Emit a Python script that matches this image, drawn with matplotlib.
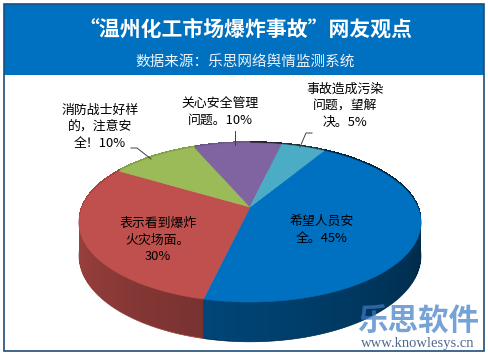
#!/usr/bin/env python3
"""“温州化工市场爆炸事故”网友观点 — 3D pie recreated with plain patches."""

import numpy as np
import matplotlib
matplotlib.use("Agg")
import matplotlib.pyplot as plt
from matplotlib.patches import Polygon, Rectangle

plt.rcParams["font.family"] = ["Noto Sans CJK SC", "DejaVu Sans"]

# data (data order, clockwise from the first-slice angle)
labels = ["希望人员安\n全。45%", "表示看到爆炸\n火灾场面。\n30%", "消防战士好样\n的，注意安\n全！10%",
          "关心安全管理\n问题。10%", "事故造成污染\n问题，望解\n决。5%"]
values = [45, 30, 10, 10, 5]
colors = ["#0070C0", "#C0504D", "#9BBB59", "#8064A2", "#4BACC6"]
title = "“温州化工市场爆炸事故”网友观点"
subtitle = "数据来源：乐思网络舆情监测系统"

# pie geometry in pixels (axes = whole figure, y downward)
CX, CY = 250, 207
A, B, Q = 167.7, 76.5, 0.195
DEPTH = 32
START = 31.0


def proj(theta_deg, h=0.0, r=1.0):
    t = np.radians(theta_deg)
    u, v = r * np.sin(t), -r * np.cos(t)
    den = 1 - Q * v
    return CX + A * u / den, CY + (B * v + h * DEPTH) / den


def shade(color, theta):
    rgb = np.array(matplotlib.colors.to_rgb(color))
    th = theta % 360
    f = 0.33 + 0.52 * np.clip((th - 90) / 180, 0, 1)
    return tuple(rgb * f)


fig = plt.figure(figsize=(4.88, 3.57), dpi=100)
ax = fig.add_axes([0, 0, 1, 1])
ax.set_xlim(0, 488)
ax.set_ylim(357, 0)
ax.axis("off")

# frame and header band
ax.add_patch(Rectangle((4, 4), 480, 71, facecolor="#0070C0", edgecolor="none", zorder=1))
ax.add_patch(Rectangle((4, 4), 480, 347, facecolor="none", edgecolor="#1F4E79", lw=1.2, zorder=10))
ax.text(245, 29, title, color="white", fontsize=15, fontweight="bold", ha="center", va="center", zorder=11)
ax.text(245, 63, subtitle, color="#EEF3FA", fontsize=10.5, ha="center", va="center", zorder=11)

# slice angle ranges
bounds = START + np.concatenate([[0], np.cumsum(values)]) * 360 / sum(values)

# side wall: smooth outline per slice, then gradient strips on top
for i, col in enumerate(colors):
    th = np.linspace(bounds[i], bounds[i + 1], 120)
    mid = (bounds[i] + bounds[i + 1]) / 2
    pts = [proj(t) for t in th] + [proj(t, 1) for t in th[::-1]]
    c = shade(col, mid)
    ax.add_patch(Polygon(pts, closed=True, facecolor=c, edgecolor=c, lw=0.5, zorder=2))

strips = []
for i, col in enumerate(colors):
    th = np.arange(bounds[i], bounds[i + 1], 0.5)
    th = np.append(th, bounds[i + 1])
    for a, b in zip(th[:-1], th[1:]):
        mid = (a + b) / 2
        pts = [proj(a, -0.05), proj(b, -0.05), proj(b, 0.97), proj(a, 0.97)]
        v = -np.cos(np.radians(mid))
        strips.append((v, pts, shade(col, mid)))
strips.sort(key=lambda s: s[0])
for _, pts, c in strips:
    ax.add_patch(Polygon(pts, closed=True, facecolor=c, edgecolor="none", antialiased=False, zorder=2.5))

# top faces
for i, col in enumerate(colors):
    th = np.linspace(bounds[i], bounds[i + 1], 80)
    pts = [(CX, CY)] + [proj(t) for t in th]
    ax.add_patch(Polygon(pts, closed=True, facecolor=col, edgecolor=col, lw=0.4, zorder=3))

# data labels
label_pos = [(322, 230), (158, 240), (100, 127), (220, 112), (345, 106)]
for txt, (x, y) in zip(labels, label_pos):
    ax.text(x, y, txt, fontsize=9.3, ha="center", va="center", linespacing=1.38, color="black", zorder=5)

# leader lines
ax.plot([131, 137, 151], [148, 148, 159], color="#404040", lw=0.7, zorder=5)
ax.plot([235, 235], [131, 145], color="#404040", lw=0.7, zorder=5)
ax.plot([312, 306, 300], [133, 133, 147], color="#404040", lw=0.7, zorder=5)

# watermark
ax.text(418, 321, "乐思软件", fontsize=22, fontweight="bold", color="#3C7BC4", alpha=0.7,
        ha="center", va="center", zorder=6)
ax.text(418, 343, "www.knowlesys.cn", fontsize=10.5, family="Liberation Serif", color="#506A8E",
        ha="center", va="center", zorder=6)

fig.savefig("out.png", dpi=100)
